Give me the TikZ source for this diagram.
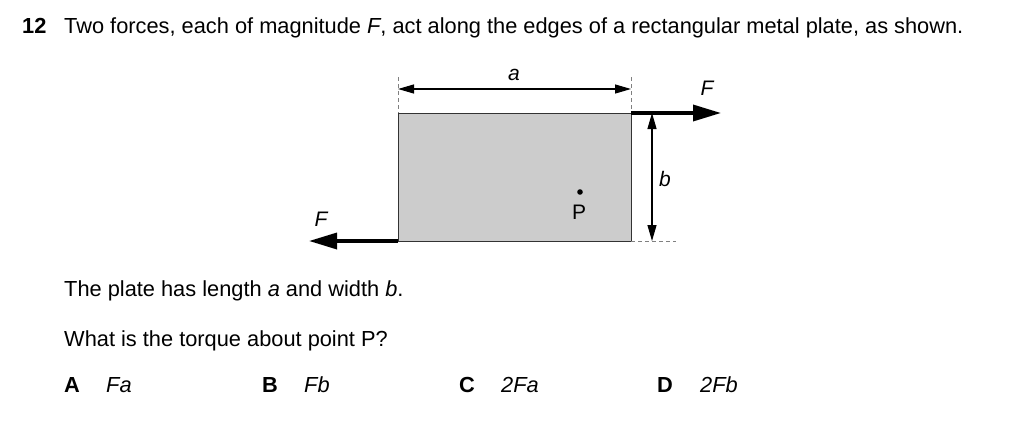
\documentclass[tikz,border=0pt]{standalone}
\usepackage{fontspec}
\setmainfont{Liberation Sans}
\usetikzlibrary{arrows.meta}
\begin{document}
\begin{tikzpicture}[x=1pt,y=-1pt,
  txt/.style={anchor=base west,inner sep=0pt,font=\fontsize{21.8}{26}\selectfont},
  lbl/.style={inner sep=0pt,font=\fontsize{21}{25}\selectfont\itshape},
  force/.style={line width=3.4pt,-{Triangle[length=28pt,width=16pt]}},
  dim/.style={line width=1.2pt,{Triangle[length=16pt,width=9pt]}-{Triangle[length=16pt,width=9pt]}},
  guide/.style={line width=0.8pt,gray,dash pattern=on 4pt off 3pt}]
\useasboundingbox (0,0) rectangle (1024,434);
% title
\node[txt,font=\fontsize{21.8}{26}\selectfont\bfseries] (num) at (22,33) {12};
\node[txt] (title) at (64,33) {Two forces, each of magnitude \textit{F}, act along the edges of a rectangular metal plate, as shown.};
% plate
\coordinate (tl) at (398,113);
\coordinate (tr) at (631,113);
\coordinate (bl) at (398,241);
\coordinate (br) at (631,241);
\filldraw[fill=black!20,draw=black!80,line width=1pt] (tl) rectangle (br);
% guides
\coordinate (gl) at (398,77);
\coordinate (gr) at (631,77);
\coordinate (gb) at (676,241);
\draw[guide] (gl) -- (tl);
\draw[guide] (gr) -- (tr);
\draw[guide] (br) -- (gb);
% dimension a
\coordinate (al) at (398,89);
\coordinate (ar) at (631,89);
\draw[dim] (al) -- (ar);
\node[lbl] (la) at (514,75) {a};
% dimension b
\coordinate (bt) at (652,113);
\coordinate (bb) at (652,241);
\draw[dim] (bt) -- (bb);
\node[lbl] (lb) at (665,179) {b};
% forces
\coordinate (fr) at (721,113);
\draw[force] (tr) -- (fr);
\node[lbl] (lfr) at (707,88) {F};
\coordinate (fl) at (309,241);
\draw[force] (bl) -- (fl);
\node[lbl] (lfl) at (321,219) {F};
% point P
\fill (580,192) circle (2.8pt) coordinate (p);
\node[inner sep=0pt,font=\fontsize{21}{25}\selectfont] (lp) at (579,212) {P};
% text
\node[txt] (t1) at (64,296) {The plate has length \textit{a} and width \textit{b}.};
\node[txt] (t2) at (64,346) {What is the torque about point P?};
\node[txt,font=\fontsize{21.8}{26}\selectfont\bfseries] (oa) at (64,392) {A};
\node[txt] (va) at (106,392) {\textit{Fa}};
\node[txt,font=\fontsize{21.8}{26}\selectfont\bfseries] (ob) at (262,392) {B};
\node[txt] (vb) at (304,392) {\textit{Fb}};
\node[txt,font=\fontsize{21.8}{26}\selectfont\bfseries] (oc) at (459,392) {C};
\node[txt] (vc) at (501,392) {\textit{2Fa}};
\node[txt,font=\fontsize{21.8}{26}\selectfont\bfseries] (od) at (657,392) {D};
\node[txt] (vd) at (700,392) {\textit{2Fb}};
\end{tikzpicture}
\end{document}
